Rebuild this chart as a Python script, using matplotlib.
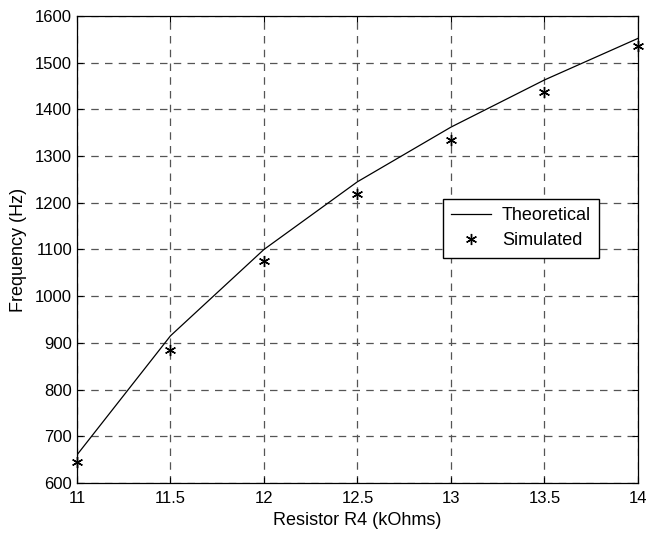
import matplotlib.pyplot as plt

# Data
resistance = [11, 11.5, 12, 12.5, 13, 13.5, 14]
theoretical = [660, 915, 1100, 1245, 1362, 1463, 1552]
simulated = [644, 885, 1075, 1218, 1335, 1437, 1535]

plt.rcParams['font.family'] = ['Liberation Sans', 'DejaVu Sans']

fig = plt.figure(figsize=(6.47, 5.33), dpi=100)
ax = fig.add_axes([0.119, 0.094, 0.867, 0.876])

ax.plot(resistance, theoretical, '-', color='black', linewidth=0.9, label='Theoretical')
ax.plot(resistance, simulated, marker=(6, 2, 0), color='black', markersize=8,
        markeredgewidth=1.0, linestyle='none', label='Simulated', clip_on=False)

ax.set_xlim(11, 14)
ax.set_ylim(600, 1600)
ax.set_xticks([11, 11.5, 12, 12.5, 13, 13.5, 14])
ax.set_xticklabels(['11', '11.5', '12', '12.5', '13', '13.5', '14'])
ax.set_yticks(range(600, 1601, 100))

ax.grid(True, linestyle=(0, (6, 5)), color='#555555', linewidth=0.9)
ax.tick_params(direction='in', labelsize=12, length=4, top=True, right=True)
ax.tick_params(axis='x', pad=6)
for s in ax.spines.values():
    s.set_linewidth(0.9)

ax.set_xlabel('Resistor R4 (kOhms)', fontsize=13, labelpad=4)
ax.set_ylabel('Frequency (Hz)', fontsize=13, labelpad=6)

ax.legend(loc='center right', bbox_to_anchor=(0.947, 0.545), fontsize=13,
          fancybox=False, edgecolor='black', framealpha=1, borderpad=0.45,
          handlelength=2.2, handletextpad=0.6, labelspacing=0.45)

plt.savefig('out.png', dpi=100)
